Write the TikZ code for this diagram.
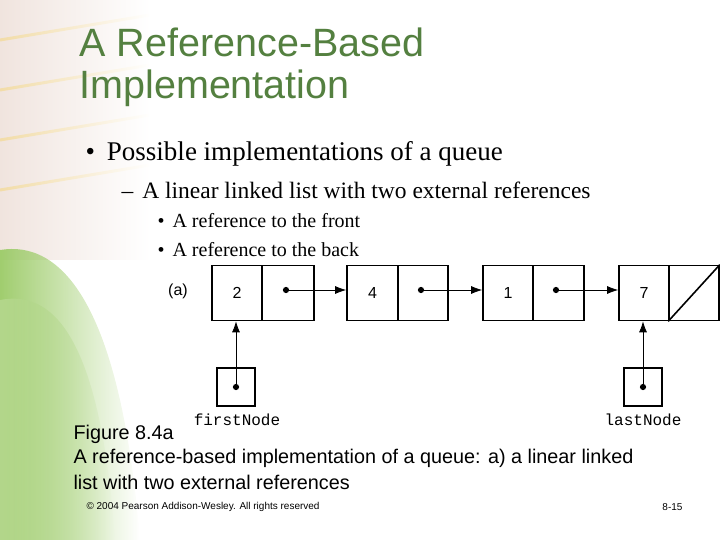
\documentclass[tikz,border=0pt]{standalone}
\usepackage{fontspec}
\setmainfont{Liberation Serif}
\setsansfont{Liberation Sans}
\setmonofont{Liberation Mono}
\usetikzlibrary{arrows.meta,fadings}
\definecolor{ttl}{RGB}{84,128,64}
\definecolor{lgreen}{RGB}{160,205,110}
\definecolor{pale}{RGB}{240,228,222}
\begin{document}
\begin{tikzpicture}[x=1pt,y=-1pt,
  cell/.style={draw,line width=1.6pt,minimum height=55pt,inner sep=0pt,font=\sffamily\fontsize{16}{16}\selectfont},
  ptr/.style={-{Latex[length=11pt,width=8pt]},line width=0.8pt},
  dot/.style={circle,fill,inner sep=2.2pt},
  lbl/.style={font=\ttfamily\fontsize{16}{16}\selectfont}]
\useasboundingbox (0,0) rectangle (720,540);
% background decoration
\fill[pale,path fading=east] (0,0) rectangle (150,260);
\fill[lgreen,path fading=east] (0,250) .. controls (60,240) and (120,300) .. (140,540) -- (0,540) -- cycle;
\fill[lgreen!80!white,path fading=east] (0,300) .. controls (50,290) and (100,330) .. (115,540) -- (0,540) -- cycle;
\foreach \y in {40,90,140,190} \draw[yellow!60!orange,opacity=0.25,line width=3pt,path fading=east] (0,\y) -- (150,\y-25);
% title
\node[anchor=west,text=ttl,font=\sffamily\fontsize{39.5}{39.5}\selectfont] (t1) at (76,42) {A Reference-Based};
\node[anchor=west,text=ttl,font=\sffamily\fontsize{39.5}{39.5}\selectfont] (t2) at (76,88) {Implementation};
% bullets
\node[anchor=west,font=\fontsize{27}{27}\selectfont] (b1) at (82,154) {•\hspace{12pt}Possible implementations of a queue};
\node[anchor=west,font=\fontsize{23.5}{23.5}\selectfont] (b2) at (118,190) {–\hspace{9pt}A linear linked list with two external references};
\node[anchor=west,font=\fontsize{20}{20}\selectfont] (b3) at (154,221) {•\hspace{8pt}A reference to the front};
\node[anchor=west,font=\fontsize{20}{20}\selectfont] (b4) at (154,250) {•\hspace{8pt}A reference to the back};
% diagram
\node[font=\sffamily\fontsize{16}{16}\selectfont] (a) at (178,291) {(a)};
\node[cell,minimum width=50pt] (d1) at (237,293) {2};
\node[cell,minimum width=52pt] (n1) at (288,293) {};
\node[cell,minimum width=51pt] (d2) at (372.5,293) {4};
\node[cell,minimum width=50pt] (n2) at (423,293) {};
\node[cell,minimum width=50pt] (d3) at (508,293) {1};
\node[cell,minimum width=51pt] (n3) at (558.5,293) {};
\node[cell,minimum width=50pt] (d4) at (644,293) {7};
\node[cell,minimum width=50pt] (n4) at (694,293) {};
\draw[line width=1.6pt] (n4.south west) -- (n4.north east);
\node[dot] (p1) at (286,290) {};
\node[dot] (p2) at (421,290) {};
\node[dot] (p3) at (556,290) {};
\draw[ptr] (p1) -- (d2.west|-p1);
\draw[ptr] (p2) -- (d3.west|-p2);
\draw[ptr] (p3) -- (d4.west|-p3);
\node[draw,line width=1.6pt,minimum size=38pt,inner sep=0pt] (f) at (236,387) {};
\node[draw,line width=1.6pt,minimum size=38pt,inner sep=0pt] (l) at (643,387) {};
\node[dot] (fd) at (f.center) {};
\node[dot] (ld) at (l.center) {};
\draw[ptr] (fd) -- (fd|-d1.south);
\draw[ptr] (ld) -- (ld|-d4.south);
\node[lbl] (fl) at (237,420) {firstNode};
\node[lbl] (ll) at (643,420) {lastNode};
% caption
\node[anchor=west,font=\sffamily\fontsize{19.8}{19.8}\selectfont] (c1) at (70,434) {Figure 8.4a};
\node[anchor=west,font=\sffamily\fontsize{19.8}{19.8}\selectfont] (c2) at (70,458) {A reference-based implementation of a queue: a) a linear linked};
\node[anchor=west,font=\sffamily\fontsize{19.8}{19.8}\selectfont] (c3) at (70,482) {list with two external references};
\node[anchor=west,font=\sffamily\fontsize{10}{10}\selectfont] (ft) at (83,507) {© 2004 Pearson Addison-Wesley. All rights reserved};
\node[anchor=east,font=\sffamily\fontsize{10}{10}\selectfont] (pg) at (686,507) {8-15};
\end{tikzpicture}
\end{document}
